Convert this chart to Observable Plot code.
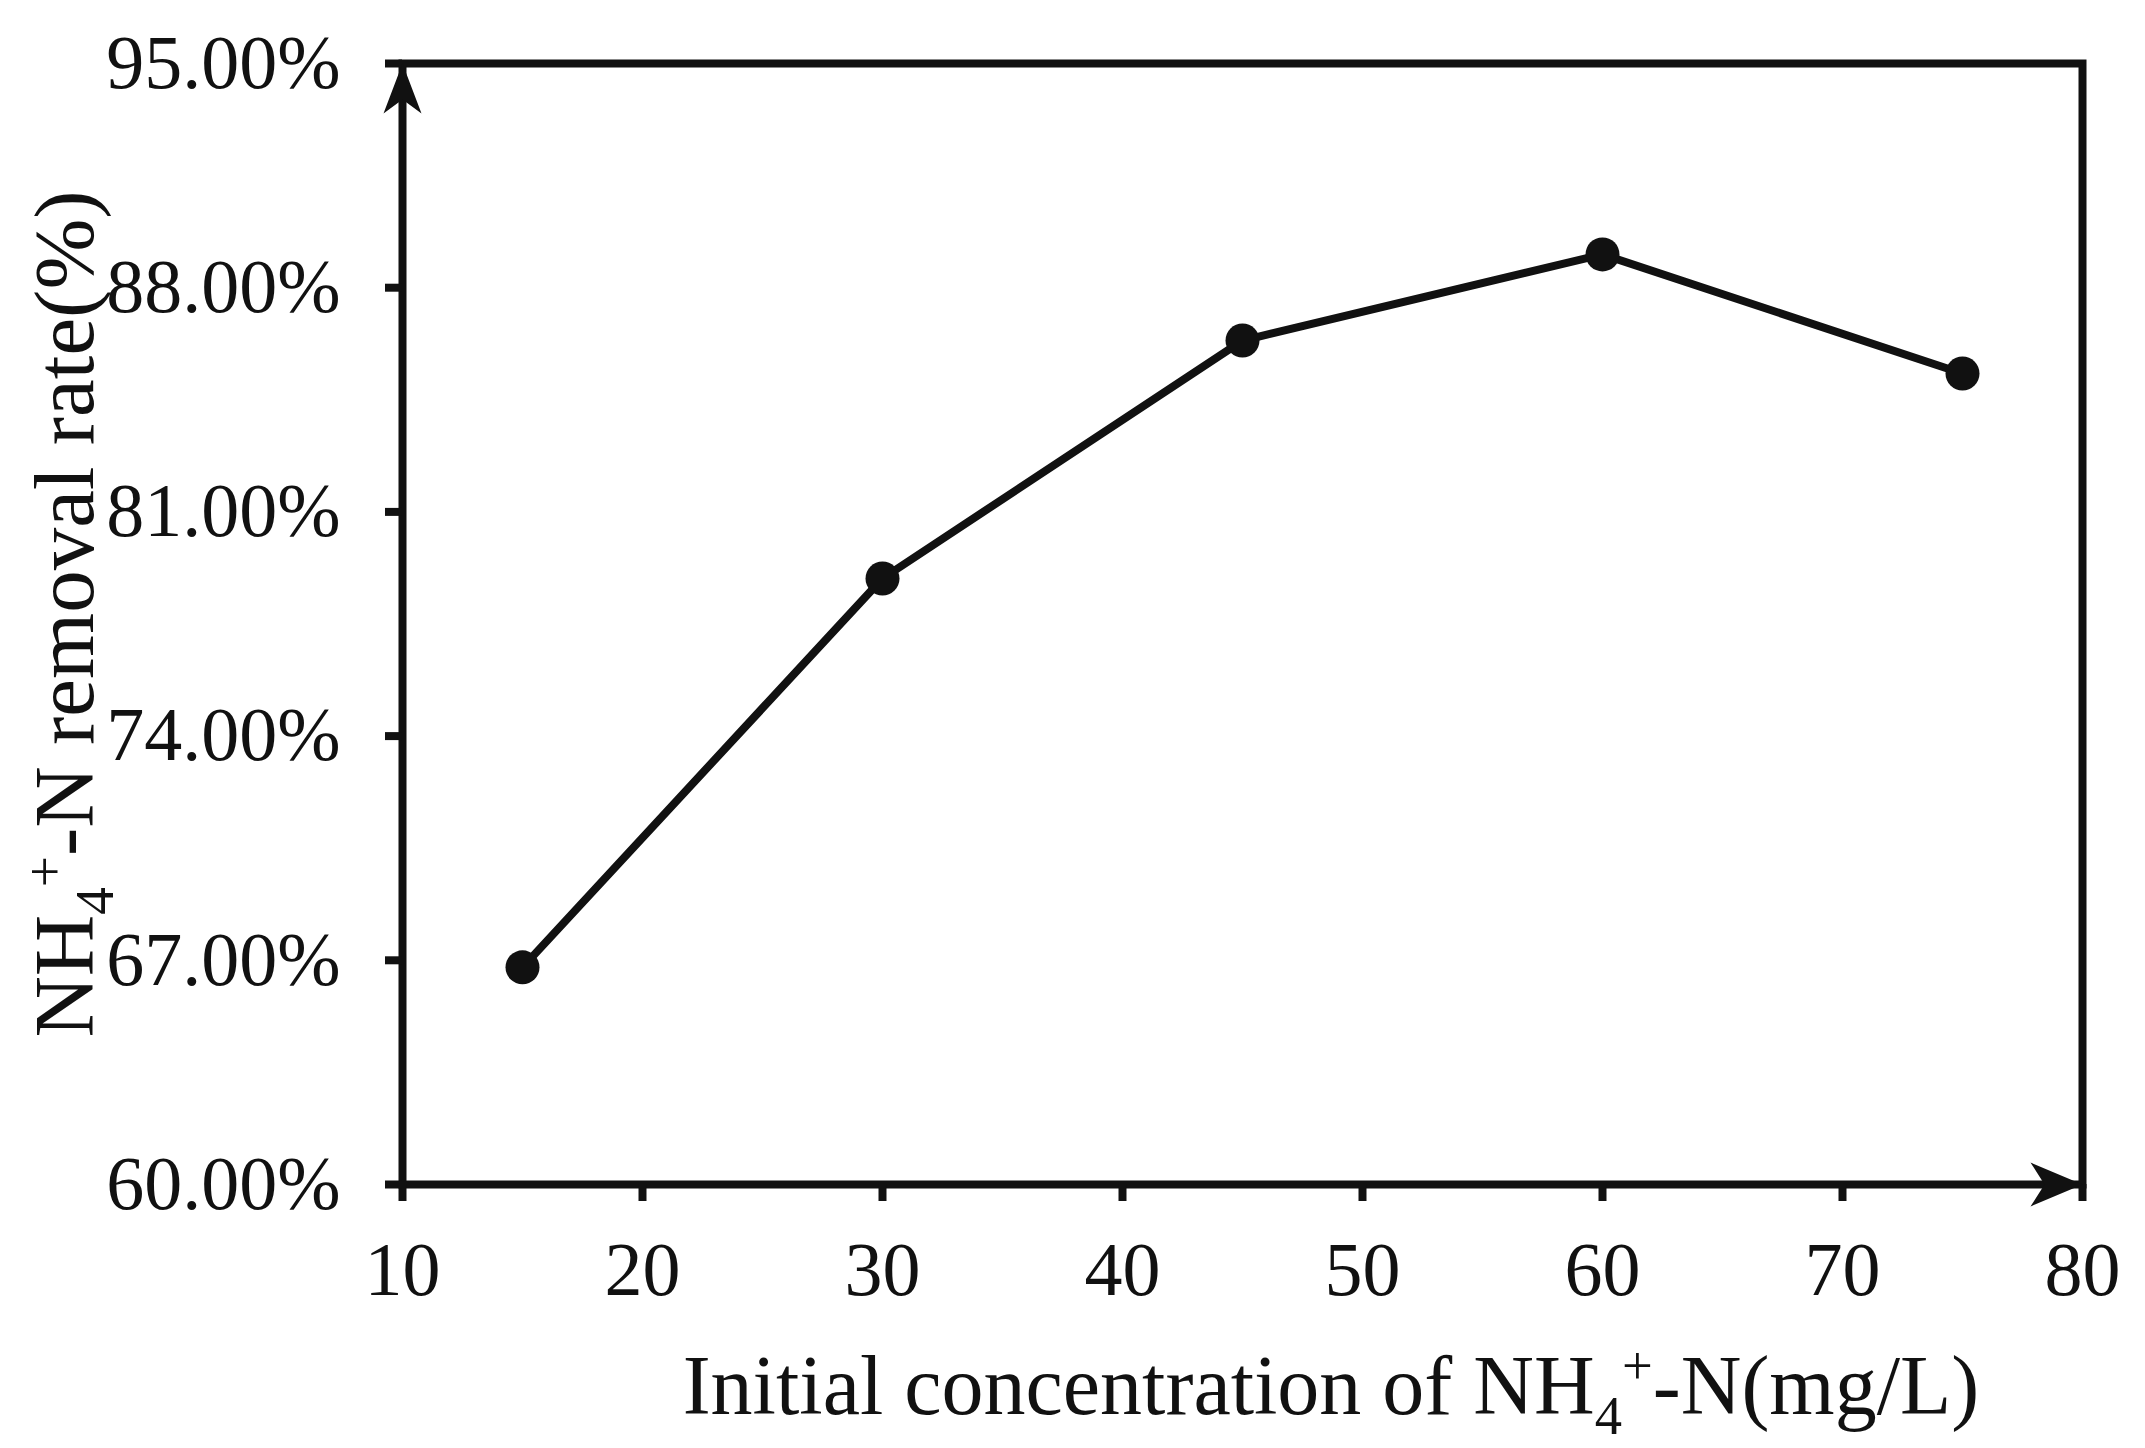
<!DOCTYPE html>
<html><head><meta charset="utf-8">
<script src="https://cdn.jsdelivr.net/npm/d3@7"></script>
<script src="https://cdn.jsdelivr.net/npm/@observablehq/plot@0.6"></script>
<style>html,body{margin:0;padding:0;background:#fff}</style>
</head><body><div id="chart"></div>
<script>
// Data
const concentrations = [15, 30, 45, 60, 75];          // mg/L
const removalRates = [66.78, 78.92, 86.35, 89.04, 85.32]; // %
const xTicks = [10, 20, 30, 40, 50, 60, 70, 80];
const yTicks = [60, 67, 74, 81, 88, 95];
const xDomain = [10, 80];
const yDomain = [60, 95];

const data = concentrations.map((c, i) => ({c, r: removalRates[i]}));
const ink = "#111";
const serif = "'Liberation Serif', 'Times New Roman', serif";

// filled "stealth" arrowheads, tip at the anchor point
const arrowUp = {draw(ctx) {
  const L = 50, W = 19, n = 14;
  ctx.moveTo(0, 0); ctx.lineTo(W, L); ctx.lineTo(0, L - n); ctx.lineTo(-W, L); ctx.closePath();
}};
const arrowRight = {draw(ctx) {
  const L = 52, W = 22, n = 14;
  ctx.moveTo(0, 0); ctx.lineTo(-L, W); ctx.lineTo(-(L - n), 0); ctx.lineTo(-L, -W); ctx.closePath();
}};

const plot = Plot.plot({
  width: 2145, height: 1448,
  marginLeft: 402, marginRight: 63, marginTop: 63, marginBottom: 264,
  style: {fontFamily: serif, fontSize: "76px", color: ink, background: "#fff"},
  x: {domain: xDomain, label: null},
  y: {domain: yDomain, label: null},
  marks: [
    Plot.frame({stroke: ink, strokeWidth: 8}),
    Plot.axisX({ticks: xTicks, tickSize: 17, tickPadding: 40, stroke: ink, strokeWidth: 8, fill: ink, fontSize: 76, label: null}),
    Plot.axisY({ticks: yTicks, tickSize: 17, tickPadding: 45, stroke: ink, strokeWidth: 8, fill: ink, fontSize: 76, label: null,
      tickFormat: d => d.toFixed(2) + "%"}),
    Plot.line(data, {x: "c", y: "r", stroke: ink, strokeWidth: 8}),
    Plot.dot(data, {x: "c", y: "r", r: 17, fill: ink, stroke: "none"}),
    Plot.dot([{x: xDomain[0], y: yDomain[1]}], {x: "x", y: "y", symbol: arrowUp, r: 10, fill: ink, stroke: "none"}),
    Plot.dot([{x: xDomain[1], y: yDomain[0]}], {x: "x", y: "y", symbol: arrowRight, r: 10, fill: ink, stroke: "none"})
  ]
});

const svg = d3.select(plot);
const T = 85, S = 0.65 * T;
const XT = 84, XS = 0.65 * XT;
const xt = svg.append("text")
  .attr("x", 1331).attr("y", 1414)
  .attr("text-anchor", "middle").attr("font-family", serif).attr("font-size", XT).attr("fill", ink);
xt.append("tspan").text("Initial concentration of NH");
xt.append("tspan").attr("font-size", XS).attr("dy", 20).text("4");
xt.append("tspan").attr("font-size", XS).attr("dy", -50).text("+");
xt.append("tspan").attr("dy", 30).text("-N(mg/L)");

const yt = svg.append("text")
  .attr("transform", "translate(93,614) rotate(-90)")
  .attr("text-anchor", "middle").attr("font-family", serif).attr("font-size", T).attr("fill", ink);
yt.append("tspan").text("NH");
yt.append("tspan").attr("font-size", S).attr("dy", 20).text("4");
yt.append("tspan").attr("font-size", S).attr("dy", -50).text("+");
yt.append("tspan").attr("dy", 30).text("-N removal rate(%)");

document.getElementById("chart").appendChild(plot);
</script>
</body></html>
